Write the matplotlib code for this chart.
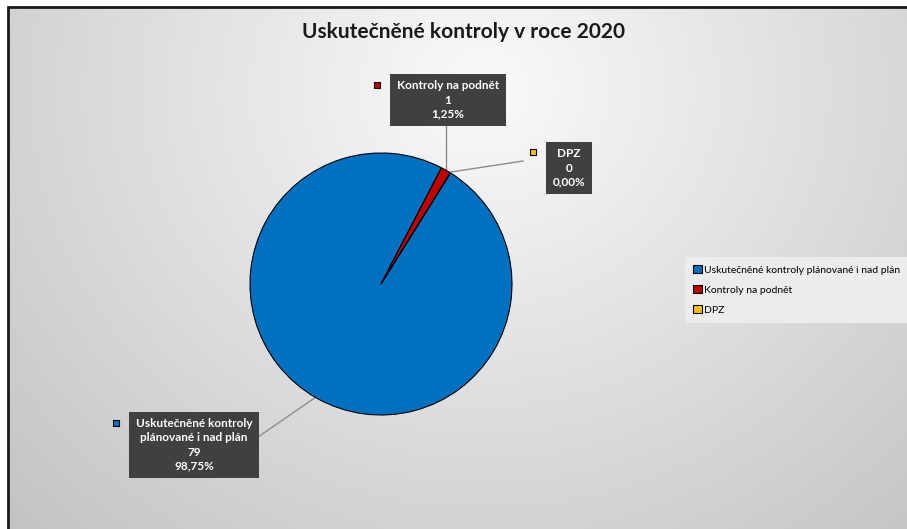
import numpy as np
import matplotlib.pyplot as plt
from matplotlib.patches import Rectangle

plt.rcParams['font.family'] = ['Lato', 'DejaVu Sans']

title = 'Uskutečněné kontroly v roce 2020'
categories = ['Uskutečněné kontroly plánované i nad plán', 'Kontroly na podnět', 'DPZ']
label_names = ['Uskutečněné kontroly\nplánované i nad plán', 'Kontroly na podnět', 'DPZ']
counts = [79, 1, 0]
colors = ['#0070C0', '#C00000', '#FFC000']

W, H = 907, 529
fig = plt.figure(figsize=(W / 100, H / 100), dpi=100)
ax = fig.add_axes([0, 0, 1, 1])

# background: radial gray gradient inside the chart frame
yy, xx = np.mgrid[0:H, 0:W]
d = np.sqrt((xx - 470.0) ** 2 + ((yy - 80.0) * 1.1) ** 2)
g = np.clip(250 - 0.083 * d, 0, 255) / 255.0
bg = np.dstack([g, g, g])
ax.imshow(bg, extent=(8, W + 20, -20, H - 7), origin='upper', zorder=0, aspect='auto')
ax.add_patch(Rectangle((8, -20), W + 20, H - 7 + 20, fill=False, ec='#1a1a1a', lw=2, zorder=1))

cx, cy, r = 381, H - 284, 131
total = sum(counts)
wedges, _ = ax.pie(counts, colors=colors, startangle=58, counterclock=False,
                   center=(cx, cy), radius=r, frame=True,
                   wedgeprops=dict(edgecolor='black', linewidth=0.8))
for w in wedges:
    w.set_zorder(3)

# data labels: (box center, marker pos, leader start, leader end)
lab_pos = [(194, H - 445), (448, H - 100), (569, H - 168)]
mark_pos = [(116, H - 423), (377, H - 85), (533, H - 152)]
leaders = [((258, H - 437), (316, H - 397)),
           ((446, H - 125), (446, H - 171)),
           ((451, H - 172), (523, H - 161))]
for i, name in enumerate(label_names):
    pct = counts[i] / total * 100
    txt = f'{name}\n{counts[i]}\n{pct:.2f}%'.replace('.', ',')
    (x0, y0), (x1, y1) = leaders[i]
    ax.plot([x0, x1], [y0, y1], color='#8c8c8c', lw=1, zorder=2)
    ax.text(*lab_pos[i], txt, ha='center', va='center', color='white',
            fontsize=8.5, fontweight='bold', linespacing=1.35, zorder=5,
            bbox=dict(boxstyle='square,pad=0.55', fc='#404040', ec='none'))
    ax.scatter(*mark_pos[i], marker='s', s=22, c=colors[i], edgecolors='black',
               linewidths=0.8, zorder=5)

ax.text(463, H - 32, title, ha='center', va='center', fontsize=15, fontweight='bold',
        color='#1a1a1a')

leg = ax.legend(wedges, categories, loc='upper left', bbox_to_anchor=(685 / W, 1 - 257 / H),
                fontsize=7.5, frameon=True, fancybox=False, handlelength=0.8,
                handleheight=0.8, handletextpad=0.2, labelspacing=1.0,
                borderpad=0.8, borderaxespad=0)
leg.get_frame().set_facecolor('#ececec')
leg.get_frame().set_edgecolor('none')
leg.get_frame().set_alpha(1)

ax.set_xlim(0, W)
ax.set_ylim(0, H)
ax.set_aspect('auto')
ax.axis('off')

fig.savefig('out.png', dpi=100)
